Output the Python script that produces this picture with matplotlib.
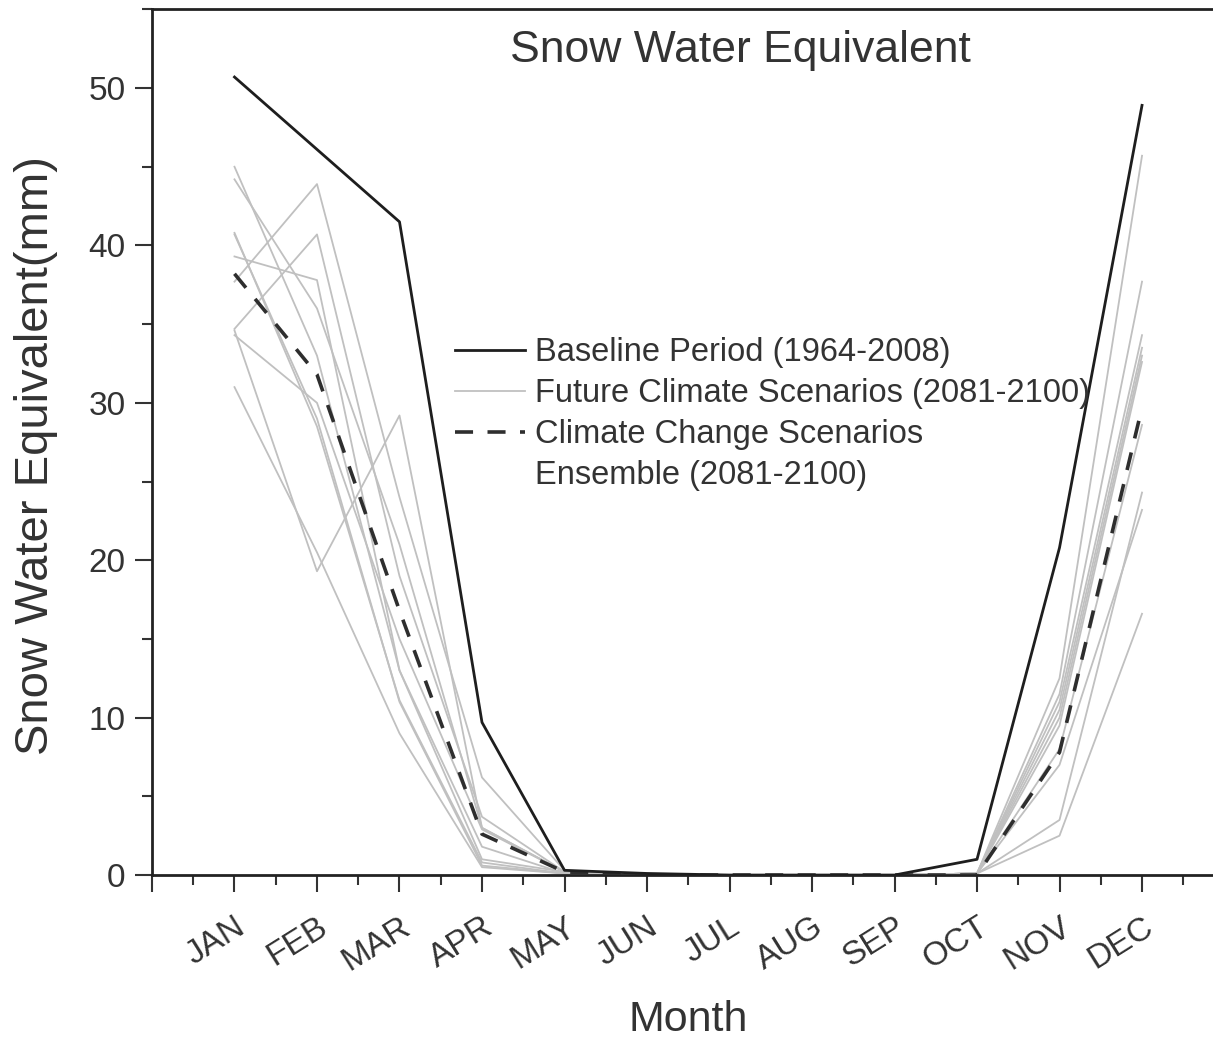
import matplotlib
matplotlib.use("Agg")
import matplotlib.pyplot as plt
from matplotlib.ticker import MultipleLocator
from matplotlib.lines import Line2D

plt.rcParams['font.family'] = ['Liberation Sans', 'DejaVu Sans']

months = ["JAN", "FEB", "MAR", "APR", "MAY", "JUN", "JUL", "AUG", "SEP", "OCT", "NOV", "DEC"]

baseline = [50.7, 46.1, 41.5, 9.7, 0.3, 0.1, 0.0, 0.0, 0.0, 1.0, 20.8, 48.9]
ensemble = [38.2, 31.8, 16.8, 2.6, 0.2, 0.0, 0.0, 0.0, 0.0, 0.0, 7.8, 29.7]

future_1 = [45.0, 33.0, 13.0, 1.0, 0.2, 0.0, 0.0, 0.0, 0.0, 0.1, 12.5, 45.7]
future_2 = [44.2, 36.0, 21.0, 3.0, 0.2, 0.0, 0.0, 0.0, 0.0, 0.1, 11.5, 37.7]
future_3 = [37.7, 43.9, 24.0, 6.2, 0.3, 0.0, 0.0, 0.0, 0.0, 0.1, 10.0, 33.0]
future_4 = [34.7, 40.7, 19.0, 3.7, 0.2, 0.0, 0.0, 0.0, 0.0, 0.1, 11.0, 34.3]
future_5 = [39.3, 37.8, 13.0, 1.8, 0.1, 0.0, 0.0, 0.0, 0.0, 0.1, 9.5, 32.6]
future_6 = [40.7, 29.0, 11.0, 0.6, 0.1, 0.0, 0.0, 0.0, 0.0, 0.1, 8.0, 28.6]
future_7 = [34.6, 19.3, 29.2, 3.0, 0.2, 0.0, 0.0, 0.0, 0.0, 0.1, 3.5, 24.3]
future_8 = [31.0, 20.5, 9.0, 0.5, 0.1, 0.0, 0.0, 0.0, 0.0, 0.1, 2.5, 16.6]
future_9 = [40.8, 28.5, 11.1, 0.8, 0.1, 0.0, 0.0, 0.0, 0.0, 0.1, 7.0, 23.2]
future_10 = [34.3, 30.0, 15.0, 2.9, 0.2, 0.0, 0.0, 0.0, 0.0, 0.1, 10.5, 33.5]
futures = [future_1, future_2, future_3, future_4, future_5,
           future_6, future_7, future_8, future_9, future_10]

x = list(range(1, 13))

fig = plt.figure(figsize=(12.13, 10.39), dpi=100)
ax = fig.add_axes([0.1253, 0.1578, 0.8842, 0.8332])

txt = '#333333'
gray = '#c0c0c0'

for i, f in enumerate(futures):
    ax.plot(x, f, color=gray, lw=1.3,
            label='Future Climate Scenarios (2081-2100)' if i == 0 else None, zorder=2)
ax.plot(x, ensemble, color='#2e2e2e', lw=2.6, linestyle=(0, (5, 4)),
        label='Climate Change Scenarios', zorder=3)
ax.plot(x, baseline, color='#1e1e1e', lw=2.0, label='Baseline Period (1964-2008)', zorder=4)

ax.set_xlim(0, 13)
ax.set_ylim(0, 55)

ax.set_xticks(range(0, 14))
ax.set_xticklabels([''] + months + [''], rotation=32, ha='right', va='top',
                   rotation_mode='anchor', fontsize=24, color=txt)
ax.xaxis.set_minor_locator(MultipleLocator(0.5))
ax.set_yticks(range(0, 51, 10))
ax.yaxis.set_minor_locator(MultipleLocator(5))
ax.tick_params(axis='y', which='major', labelsize=24, labelcolor=txt)

ax.tick_params(which='major', direction='out', length=12, width=1.5, color='#333333', pad=7)
ax.tick_params(which='minor', direction='out', length=7, width=1.5, color='#333333')
ax.tick_params(axis='x', which='major', pad=14)

for s in ax.spines.values():
    s.set_linewidth(2.0)
    s.set_color('#222222')

ax.set_xlabel('Month', fontsize=31, color=txt, va='top')
ax.xaxis.set_label_coords(0.5, -0.144)
ax.set_ylabel('Snow Water Equivalent(mm)', fontsize=34, color=txt)
ax.yaxis.set_label_coords(-0.088, 0.484)

ax.text(0.549, 0.939, 'Snow Water Equivalent', transform=ax.transAxes,
        ha='center', va='baseline', fontsize=32, color=txt)

handles, labels = ax.get_legend_handles_labels()
order = [2, 0, 1]
hs = [handles[i] for i in order] + [Line2D([], [], color='none')]
ls = [labels[i] for i in order] + ['Ensemble (2081-2100)']
leg = ax.legend(hs, ls,
                loc='upper left', bbox_to_anchor=(0.2825, 0.621), frameon=False,
                fontsize=23.5, handlelength=2.15, handletextpad=0.3, labelspacing=0.3,
                borderpad=0, borderaxespad=0)
for t in leg.get_texts():
    t.set_color(txt)

fig.savefig('out.png', dpi=100)
